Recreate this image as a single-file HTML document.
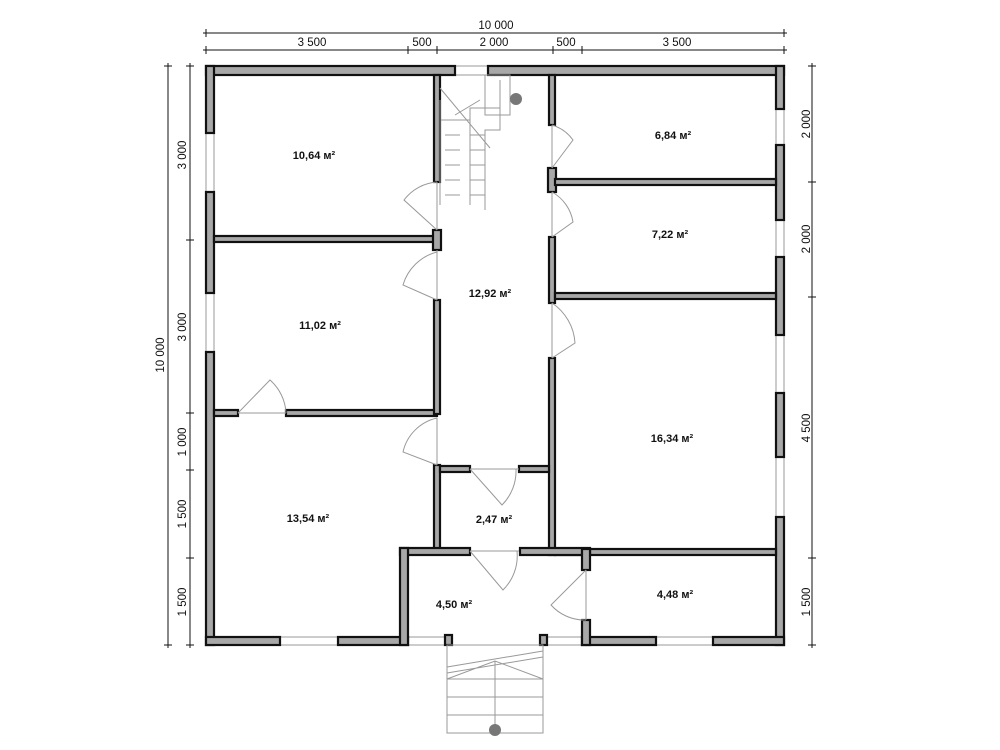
<!DOCTYPE html>
<html><head><meta charset="utf-8"><style>
html,body{margin:0;padding:0;background:#fff;}
svg{display:block;}
text{font-family:"Liberation Sans",sans-serif;fill:#111;}
.w{fill:#a8a8a8;stroke:#111;stroke-width:2.2;}
.d{stroke:#111;stroke-width:1;fill:none;}
.t{stroke:#999;stroke-width:1;fill:none;}
.win{fill:#fff;stroke:#999;stroke-width:1;}
</style></head><body>
<svg width="1000" height="750" viewBox="0 0 1000 750">
<g class="d">
<line x1="203" y1="33" x2="787" y2="33"/>
<line x1="203" y1="50" x2="787" y2="50"/>
<line x1="168" y1="63" x2="168" y2="648"/>
<line x1="190" y1="63" x2="190" y2="648"/>
<line x1="812" y1="63" x2="812" y2="648"/>
</g>
<g class="d">
<line x1="206" y1="29" x2="206" y2="37"/><line x1="784" y1="29" x2="784" y2="37"/>
<line x1="206" y1="46" x2="206" y2="54"/><line x1="408" y1="46" x2="408" y2="54"/><line x1="437" y1="46" x2="437" y2="54"/><line x1="553" y1="46" x2="553" y2="54"/><line x1="582" y1="46" x2="582" y2="54"/><line x1="784" y1="46" x2="784" y2="54"/>
<line x1="164" y1="66" x2="172" y2="66"/><line x1="164" y1="645" x2="172" y2="645"/>
<line x1="186" y1="66" x2="194" y2="66"/><line x1="186" y1="240" x2="194" y2="240"/><line x1="186" y1="413" x2="194" y2="413"/><line x1="186" y1="470" x2="194" y2="470"/><line x1="186" y1="558" x2="194" y2="558"/><line x1="186" y1="645" x2="194" y2="645"/>
<line x1="808" y1="66" x2="816" y2="66"/><line x1="808" y1="182" x2="816" y2="182"/><line x1="808" y1="297" x2="816" y2="297"/><line x1="808" y1="558" x2="816" y2="558"/><line x1="808" y1="645" x2="816" y2="645"/>
</g>
<g font-size="11.5">
<text x="496" y="29" text-anchor="middle">10 000</text>
<text x="312" y="46" text-anchor="middle">3 500</text>
<text x="422" y="46" text-anchor="middle">500</text>
<text x="494" y="46" text-anchor="middle">2 000</text>
<text x="566" y="46" text-anchor="middle">500</text>
<text x="677" y="46" text-anchor="middle">3 500</text>
<text transform="translate(164,355) rotate(-90)" text-anchor="middle">10 000</text>
<text transform="translate(186,155) rotate(-90)" text-anchor="middle">3 000</text>
<text transform="translate(186,327) rotate(-90)" text-anchor="middle">3 000</text>
<text transform="translate(186,442) rotate(-90)" text-anchor="middle">1 000</text>
<text transform="translate(186,514) rotate(-90)" text-anchor="middle">1 500</text>
<text transform="translate(186,602) rotate(-90)" text-anchor="middle">1 500</text>
<text transform="translate(810,124) rotate(-90)" text-anchor="middle">2 000</text>
<text transform="translate(810,239) rotate(-90)" text-anchor="middle">2 000</text>
<text transform="translate(810,428) rotate(-90)" text-anchor="middle">4 500</text>
<text transform="translate(810,602) rotate(-90)" text-anchor="middle">1 500</text>
</g>
<g class="win">
<rect x="455" y="66" width="33" height="9"/>
<rect x="206" y="133" width="8" height="59"/>
<rect x="206" y="293" width="8" height="59"/>
<rect x="776" y="109" width="8" height="36"/>
<rect x="776" y="220" width="8" height="37"/>
<rect x="776" y="335" width="8" height="58"/>
<rect x="776" y="457" width="8" height="60"/>
<rect x="280" y="637" width="58" height="8"/>
<rect x="656" y="637" width="57" height="8"/>
<rect x="408" y="637" width="37" height="8"/>
<rect x="547" y="637" width="35" height="8"/>
</g>
<g class="w">
<rect x="206" y="66" width="249" height="9"/>
<rect x="488" y="66" width="296" height="9"/>
<rect x="206" y="66" width="8" height="67"/>
<rect x="206" y="192" width="8" height="101"/>
<rect x="206" y="352" width="8" height="293"/>
<rect x="776" y="66" width="8" height="43"/>
<rect x="776" y="145" width="8" height="75"/>
<rect x="776" y="257" width="8" height="78"/>
<rect x="776" y="393" width="8" height="64"/>
<rect x="776" y="517" width="8" height="128"/>
<rect x="206" y="637" width="74" height="8"/>
<rect x="338" y="637" width="70" height="8"/>
<rect x="582" y="637" width="74" height="8"/>
<rect x="713" y="637" width="71" height="8"/>
<rect x="214" y="236" width="226" height="6"/>
<rect x="214" y="410" width="24" height="6"/>
<rect x="286" y="410" width="151" height="6"/>
<rect x="434" y="75" width="6" height="107"/>
<rect x="433" y="230" width="8" height="20"/>
<rect x="434" y="300" width="6" height="114"/>
<rect x="434" y="465" width="6" height="85"/>
<rect x="549" y="75" width="6" height="50"/>
<rect x="548" y="168" width="8" height="24"/>
<rect x="549" y="237" width="6" height="66"/>
<rect x="549" y="358" width="6" height="197"/>
<rect x="555" y="179" width="221" height="6"/>
<rect x="555" y="293" width="221" height="6"/>
<rect x="555" y="549" width="221" height="6"/>
<rect x="440" y="466" width="30" height="6"/>
<rect x="519" y="466" width="30" height="6"/>
<rect x="400" y="548" width="70" height="7"/>
<rect x="520" y="548" width="70" height="7"/>
<rect x="400" y="548" width="8" height="97"/>
<rect x="582" y="549" width="8" height="21"/>
<rect x="582" y="620" width="8" height="25"/>
<rect x="445" y="635" width="7" height="10"/>
<rect x="540" y="635" width="7" height="10"/>
</g>
<g class="t">
<line x1="437" y1="182" x2="437" y2="230"/><path d="M437 230 L404 200 A45 45 0 0 1 437 182"/>
<line x1="437" y1="250" x2="437" y2="300"/><path d="M437 300 L403 285 A48 48 0 0 1 437 252"/>
<line x1="437" y1="418" x2="437" y2="465"/><path d="M437 465 L403 452 A45 45 0 0 1 437 418"/>
<line x1="552" y1="125" x2="552" y2="168"/><path d="M552 168 L573 140 A40 40 0 0 0 552 125"/>
<line x1="552" y1="192" x2="552" y2="237"/><path d="M552 237 L573 222 A42 42 0 0 0 552 192"/>
<line x1="552" y1="303" x2="552" y2="358"/><path d="M552 358 L575 343 A52 52 0 0 0 552 303"/>
<line x1="238" y1="413" x2="286" y2="413"/><path d="M238 413 L270 380 A47 47 0 0 1 286 413"/>
<line x1="470" y1="469" x2="519" y2="469"/><path d="M470 469 L502 505 A48 48 0 0 0 516 469"/>
<line x1="470" y1="551" x2="519" y2="551"/><path d="M470 551 L503 590 A48 48 0 0 0 517 551"/>
<line x1="586" y1="570" x2="586" y2="620"/><path d="M586 570 L551 605 A45 45 0 0 0 586 620"/>
<path d="M440 100 L440 205 M441 120 H470 V108 H500 V80 M470 120 V205 M500 80 V130 H485 V210"/>
<path d="M445 135 H460 M445 150 H460 M445 165 H460 M445 180 H460 M445 195 H460 M470 135 H485 M470 150 H485 M470 165 H485 M470 180 H485 M470 195 H485"/>
<path d="M440 88 L490 148 M455 115 L480 100"/>
<rect x="485" y="75" width="25" height="40"/>
<rect x="447" y="645" width="96" height="88"/>
<path d="M447 667 L543 651 M447 673 L543 657 M447 679 L495 661 L543 679 M447 679 H543 M447 697 H543 M447 715 H543 M495 661 V733"/>
</g>
<circle cx="516" cy="99" r="6" fill="#777"/>
<circle cx="495" cy="730" r="6" fill="#777"/>
<g font-size="11" font-weight="bold" text-anchor="middle">
<text x="314" y="159">10,64 м²</text>
<text x="320" y="329">11,02 м²</text>
<text x="308" y="522">13,54 м²</text>
<text x="490" y="297">12,92 м²</text>
<text x="673" y="139">6,84 м²</text>
<text x="670" y="238">7,22 м²</text>
<text x="672" y="442">16,34 м²</text>
<text x="494" y="523">2,47 м²</text>
<text x="454" y="608">4,50 м²</text>
<text x="675" y="598">4,48 м²</text>
</g>
</svg>
</body></html>
